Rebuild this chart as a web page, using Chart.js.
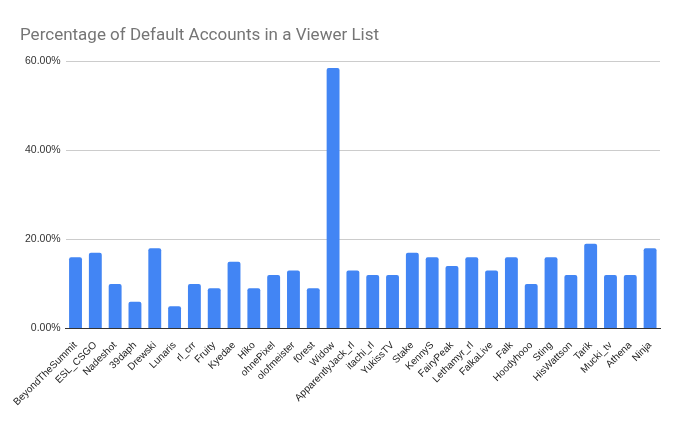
<!DOCTYPE html>
<html><head><meta charset="utf-8">
<script src="https://cdn.jsdelivr.net/npm/chart.js@4/dist/chart.umd.min.js"></script>
<style>html,body{margin:0;padding:0;background:#fff}#wrap{width:680px;height:421px}</style>
</head><body><div id="wrap"><canvas id="c"></canvas></div>
<script>
const categories = ["BeyondTheSummit","ESL_CSGO","Nadeshot","39daph","Drewski","Lunaris","rl_crr","Fruity","Kyedae","Hiko","ohnePixel","olofmeister","f0rest","Widow","ApparentlyJack_rl","itachi_rl","YukissTV","Stake","KennyS","FairyPeak","Lethamyr_rl","FalkaLive","Falk","Hoodyhooo","Sting","HisWattson","Tarik","Mucki_tv","Athena","Ninja"];
const defaultPct = [16,17,10,6,18,5,10,9,15,9,12,13,9,58.5,13,12,12,17,16,14,16,13,16,10,16,12,19,12,12,18];
const yTicks = [0,20,40,60];
const titleText = "Percentage of Default Accounts in a Viewer List";

new Chart(document.getElementById('c'), {
  type: 'bar',
  data: { labels: categories, datasets: [{ data: defaultPct, backgroundColor: '#4285F4', borderRadius: {topLeft:2, topRight:2}, borderSkipped: 'bottom', barPercentage: 0.65, categoryPercentage: 1 }] },
  options: {
    responsive: true, maintainAspectRatio: false, animation: false,
    layout: { padding: { left: 20, right: 20, top: 20, bottom: 10 } },
    plugins: {
      legend: { display: false }, tooltip: { enabled: false },
      title: { display: true, text: titleText, align: 'start', color: '#757575', font: { family: 'Roboto', size: 17, weight: 'normal' }, padding: { top: 6, bottom: 15 } }
    },
    scales: {
      x: {
        grid: { display: false },
        border: { color: '#333', width: 1 },
        ticks: { color: '#222', font: { family: 'Liberation Sans', size: 10 }, maxRotation: 45, minRotation: 45, autoSkip: false, padding: 3 }
      },
      y: {
        min: 0, max: 60,
        afterBuildTicks: s => { s.ticks = yTicks.map(v => ({ value: v })); },
        grid: { color: c => c.tick && c.tick.value === 0 ? '#333' : '#ccc', drawTicks: false },
        border: { display: false },
        ticks: { color: '#333', font: { family: 'Liberation Sans', size: 10.5 }, padding: 5, callback: v => v.toFixed(2) + '%' }
      }
    }
  }
});
</script></body></html>
